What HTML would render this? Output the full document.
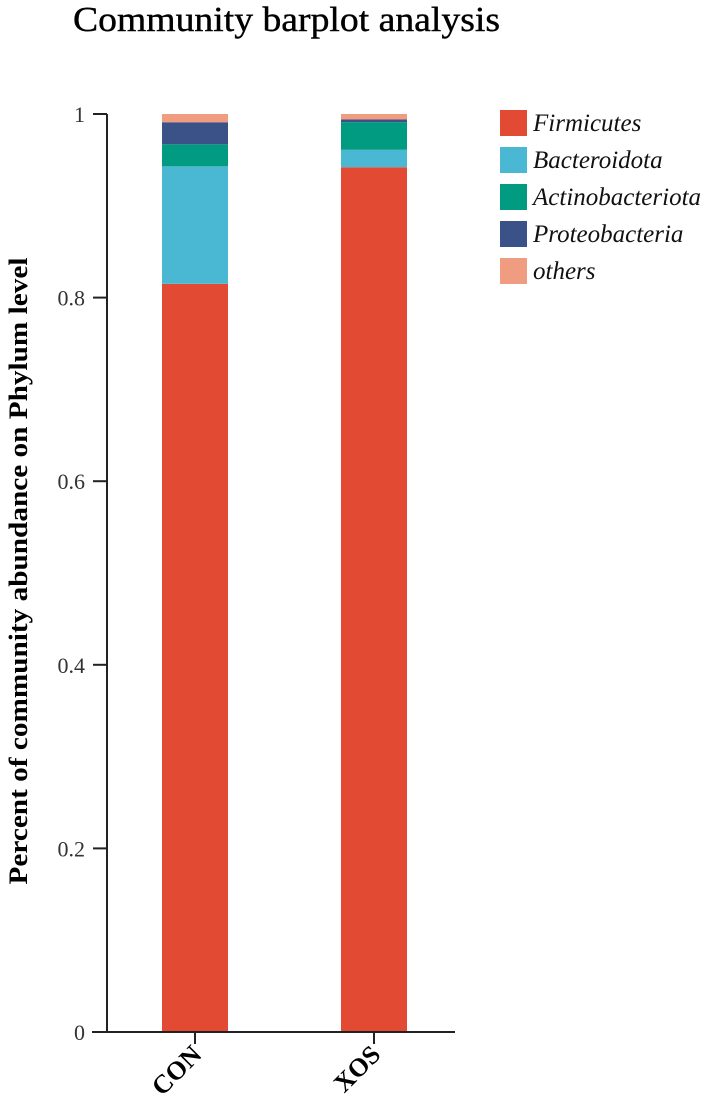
<!DOCTYPE html>
<html><head><meta charset="utf-8"><style>
html,body{margin:0;padding:0;background:#fff;}
svg{display:block;font-family:"Liberation Serif",serif;}
</style></head><body>
<svg id="chart" width="709" height="1101" viewBox="0 0 709 1101" xmlns="http://www.w3.org/2000/svg">
<text x="73" y="31" font-size="35" textLength="427" lengthAdjust="spacingAndGlyphs" fill="#000" stroke="#000" stroke-width="0.4">Community barplot analysis</text>
<text transform="translate(27,571) rotate(-90)" text-anchor="middle" font-size="26" font-weight="bold" textLength="627" lengthAdjust="spacingAndGlyphs" fill="#000">Percent of community abundance on Phylum level</text>
<g id="plot"></g>
</svg>
<script>
const categories = ["CON", "XOS"];
const series = ["Firmicutes", "Bacteroidota", "Actinobacteriota", "Proteobacteria", "others"];
const colors = ["#e34a33", "#4bb8d3", "#009b80", "#3a5288", "#f09c80"];
const firmicutes = [0.815, 0.942];
const bacteroidota = [0.128, 0.019];
const actinobacteriota = [0.024, 0.030];
const proteobacteria = [0.024, 0.003];
const others = [0.009, 0.006];
const values = [firmicutes, bacteroidota, actinobacteriota, proteobacteria, others];
const yTicks = [0, 0.2, 0.4, 0.6, 0.8, 1];
const yTickLabels = ["0", "0.2", "0.4", "0.6", "0.8", "1"];

const NS = "http://www.w3.org/2000/svg";
const g = document.getElementById("plot");
const y0 = 1032, y1 = 114, xAxis = 107;
const yScale = v => y0 - v * (y0 - y1);
const xCenter = i => 195 + i * 179;
const barW = 66;
function mk(tag, attrs){const e=document.createElementNS(NS,tag);for(const k in attrs)e.setAttribute(k,attrs[k]);g.appendChild(e);return e;}

categories.forEach((c, i) => {
  let acc = 0;
  series.forEach((s, j) => {
    const v = values[j][i];
    const r = mk("rect", {x: xCenter(i) - barW/2, y: yScale(acc + v), width: barW, height: yScale(acc) - yScale(acc + v), fill: colors[j]});
    
    
    acc += v;
  });
  const t = mk("line", {x1: xCenter(i), x2: xCenter(i), y1: y0, y2: y0 + 12, stroke: "#222", "stroke-width": 2});
  
  
  const lab = mk("text", {transform: `translate(${xCenter(i)+8},${y0+24}) rotate(-45)`, "text-anchor": "end", "font-size": 26, "font-weight": "bold", fill: "#000"});
  lab.textContent = c;
  
  
});

const ya = mk("line", {x1: xAxis, x2: xAxis, y1: y1, y2: y0, stroke: "#222", "stroke-width": 2});


const xa = mk("line", {x1: 92, x2: 455, y1: y0, y2: y0, stroke: "#222", "stroke-width": 2});


yTicks.forEach((v, i) => {
  const t = mk("line", {x1: 93, x2: xAxis, y1: yScale(v), y2: yScale(v), stroke: "#222", "stroke-width": 2});
  
  
  const l = mk("text", {x: 85, y: yScale(v) + 8, "text-anchor": "end", "font-size": 22, fill: "#333"});
  l.textContent = yTickLabels[i];
  
  
});

series.forEach((s, j) => {
  const yy = 110 + j * 37;
  const r = mk("rect", {x: 500, y: yy, width: 27, height: 26, fill: colors[j]});
  
  
  const t = mk("text", {x: 533, y: yy + 21, "font-size": 25, "font-style": "italic", fill: "#111"});
  t.textContent = s;
  
  
});
</script>
</body></html>
